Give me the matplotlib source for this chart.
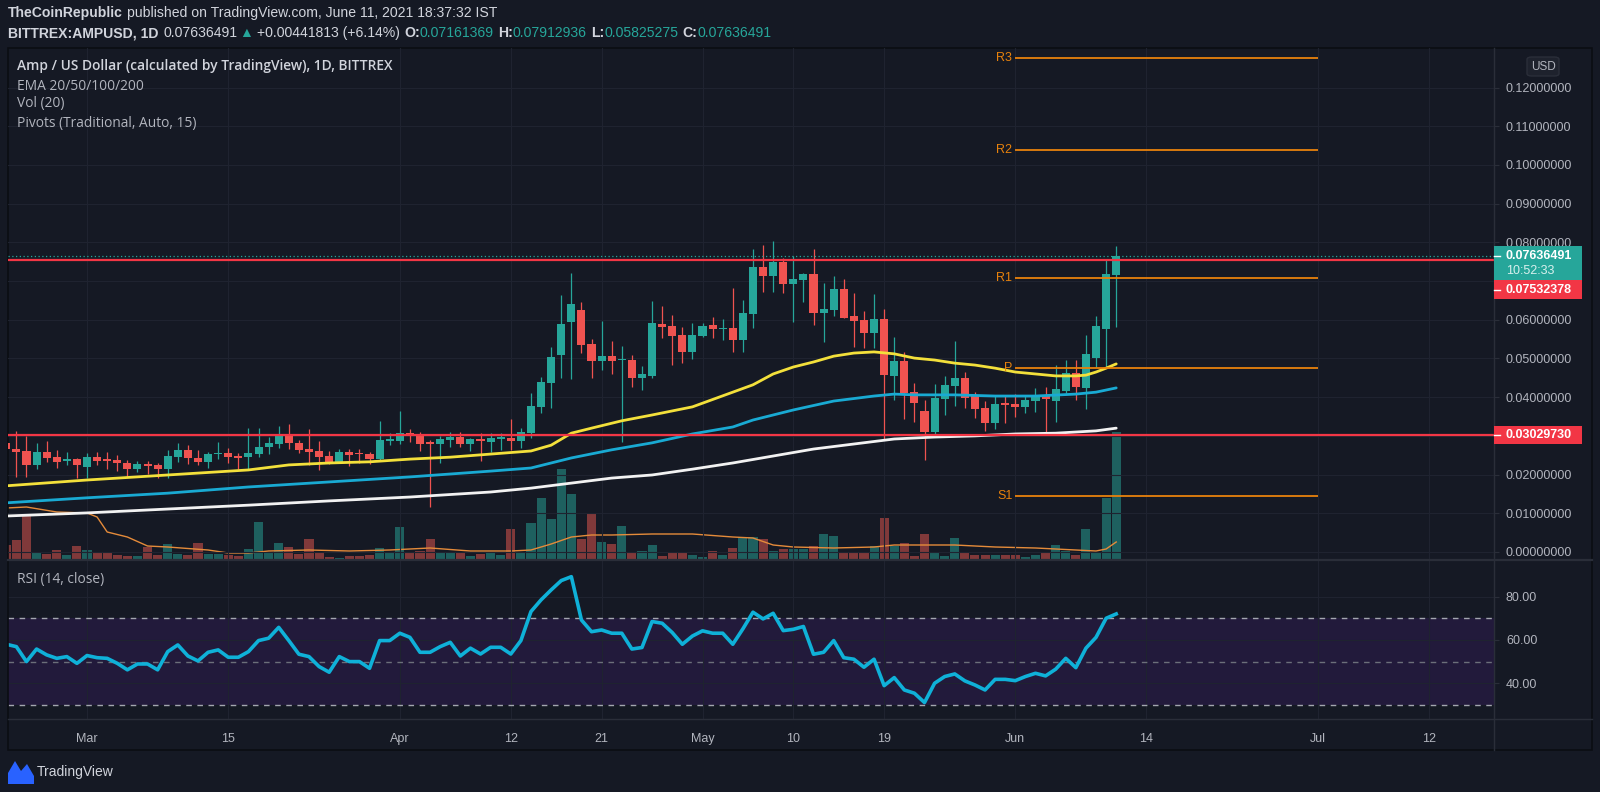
# -*- coding: utf-8 -*-
"""
AMP / USD diario (BITTREX) con EMAs, volumen, pivotes y RSI,
dibujado al estilo del tema oscuro de TradingView.
"""
import pandas as pd
import matplotlib
matplotlib.use("Agg")
import matplotlib.pyplot as plt
import matplotlib.dates as mdates
from matplotlib import font_manager
from matplotlib.lines import Line2D
from matplotlib.patches import Rectangle, FancyBboxPatch, Polygon

# ---------------- datos ----------------
fechas = pd.date_range("2021-02-21", "2021-06-11", freq="D")

aperturas = [0.0282, 0.0266, 0.0261, 0.0225, 0.0258, 0.0245, 0.0235, 0.0240, 0.0220, 0.0245,
             0.0238, 0.0238, 0.0230, 0.0214, 0.0227, 0.0225, 0.0214, 0.0245, 0.0264, 0.0243,
             0.0233, 0.0253, 0.0256, 0.0244, 0.0245, 0.0253, 0.0271, 0.0279, 0.0302, 0.0282,
             0.0266, 0.0261, 0.0248, 0.0233, 0.0258, 0.0255, 0.0253, 0.0240, 0.0287, 0.0287,
             0.0307, 0.0305, 0.0282, 0.0279, 0.0289, 0.0297, 0.0279, 0.0292, 0.0284, 0.0292,
             0.0295, 0.0287, 0.0307, 0.0375, 0.0437, 0.0509, 0.0594, 0.0625, 0.0537, 0.0494,
             0.0506, 0.0495, 0.0496, 0.0450, 0.0455, 0.0589, 0.0584, 0.0561, 0.0517, 0.0558,
             0.0587, 0.0576, 0.0579, 0.0548, 0.0615, 0.0736, 0.0713, 0.0749, 0.0693, 0.0703,
             0.0718, 0.0618, 0.0625, 0.0680, 0.0610, 0.0600, 0.0566, 0.0602, 0.0455, 0.0494,
             0.0413, 0.0364, 0.0310, 0.0395, 0.0429, 0.0450, 0.0406, 0.0372, 0.0333, 0.0382,
             0.0382, 0.0375, 0.0390, 0.0406, 0.0390, 0.0416, 0.0463, 0.0424, 0.0501, 0.0576,
             0.07161369]
maximos = [0.0300, 0.0313, 0.0300, 0.0282, 0.0287, 0.0264, 0.0258, 0.0243, 0.0256, 0.0258,
           0.0258, 0.0251, 0.0238, 0.0235, 0.0235, 0.0230, 0.0264, 0.0282, 0.0276, 0.0264,
           0.0258, 0.0284, 0.0269, 0.0256, 0.0320, 0.0320, 0.0297, 0.0326, 0.0331, 0.0289,
           0.0318, 0.0287, 0.0261, 0.0266, 0.0266, 0.0266, 0.0258, 0.0339, 0.0307, 0.0364,
           0.0318, 0.0310, 0.0289, 0.0300, 0.0310, 0.0310, 0.0295, 0.0307, 0.0307, 0.0307,
           0.0344, 0.0320, 0.0411, 0.0452, 0.0530, 0.0664, 0.0721, 0.0646, 0.0550, 0.0597,
           0.0545, 0.0532, 0.0509, 0.0481, 0.0649, 0.0636, 0.0612, 0.0581, 0.0592, 0.0592,
           0.0607, 0.0602, 0.0682, 0.0651, 0.0783, 0.0793, 0.0804, 0.0760, 0.0765, 0.0721,
           0.0783, 0.0695, 0.0713, 0.0705, 0.0669, 0.0623, 0.0667, 0.0628, 0.0556, 0.0517,
           0.0437, 0.0393, 0.0434, 0.0455, 0.0545, 0.0465, 0.0413, 0.0390, 0.0403, 0.0403,
           0.0408, 0.0403, 0.0424, 0.0426, 0.0483, 0.0496, 0.0496, 0.0561, 0.0610, 0.0755,
           0.07912936]
minimos = [0.0251, 0.0194, 0.0194, 0.0214, 0.0233, 0.0217, 0.0225, 0.0191, 0.0191, 0.0225,
           0.0214, 0.0209, 0.0194, 0.0207, 0.0202, 0.0191, 0.0191, 0.0233, 0.0227, 0.0225,
           0.0217, 0.0240, 0.0230, 0.0214, 0.0212, 0.0245, 0.0253, 0.0269, 0.0266, 0.0256,
           0.0225, 0.0212, 0.0227, 0.0230, 0.0222, 0.0230, 0.0227, 0.0238, 0.0276, 0.0279,
           0.0284, 0.0261, 0.0116, 0.0230, 0.0271, 0.0271, 0.0261, 0.0235, 0.0258, 0.0264,
           0.0264, 0.0269, 0.0295, 0.0359, 0.0372, 0.0450, 0.0447, 0.0514, 0.0450, 0.0470,
           0.0460, 0.0284, 0.0426, 0.0419, 0.0450, 0.0553, 0.0483, 0.0488, 0.0499, 0.0556,
           0.0553, 0.0548, 0.0517, 0.0517, 0.0579, 0.0672, 0.0672, 0.0669, 0.0594, 0.0646,
           0.0587, 0.0543, 0.0610, 0.0605, 0.0530, 0.0527, 0.0527, 0.0289, 0.0393, 0.0344,
           0.0336, 0.0238, 0.0297, 0.0354, 0.0377, 0.0372, 0.0346, 0.0313, 0.0318, 0.0333,
           0.0349, 0.0359, 0.0362, 0.0310, 0.0336, 0.0411, 0.0393, 0.0370, 0.0478, 0.0478,
           0.05825275]
cierres = [0.0266, 0.0258, 0.0225, 0.0258, 0.0243, 0.0233, 0.0240, 0.0225, 0.0245, 0.0235,
           0.0236, 0.0230, 0.0214, 0.0227, 0.0222, 0.0214, 0.0248, 0.0264, 0.0243, 0.0233,
           0.0253, 0.0256, 0.0245, 0.0243, 0.0256, 0.0271, 0.0282, 0.0302, 0.0282, 0.0264,
           0.0258, 0.0245, 0.0233, 0.0258, 0.0251, 0.0252, 0.0240, 0.0289, 0.0289, 0.0307,
           0.0300, 0.0279, 0.0279, 0.0292, 0.0297, 0.0279, 0.0292, 0.0287, 0.0295, 0.0296,
           0.0287, 0.0310, 0.0377, 0.0439, 0.0504, 0.0589, 0.0641, 0.0535, 0.0494, 0.0506,
           0.0494, 0.0499, 0.0450, 0.0460, 0.0592, 0.0581, 0.0558, 0.0517, 0.0561, 0.0584,
           0.0576, 0.0579, 0.0548, 0.0618, 0.0736, 0.0713, 0.0749, 0.0693, 0.0705, 0.0718,
           0.0618, 0.0628, 0.0680, 0.0605, 0.0597, 0.0566, 0.0602, 0.0457, 0.0494, 0.0411,
           0.0385, 0.0310, 0.0398, 0.0432, 0.0450, 0.0398, 0.0370, 0.0333, 0.0382, 0.0380,
           0.0375, 0.0393, 0.0406, 0.0395, 0.0421, 0.0463, 0.0426, 0.0512, 0.0584, 0.0719,
           0.07636491]
# volumen en escala relativa (altura de las barras)
volumenes = [15, 20, 45, 7, 6, 10, 5, 14, 10, 7,
             7, 5, 4, 4, 13, 5, 16, 6, 5, 17,
             6, 6, 5, 4, 11, 38, 8, 17, 13, 6,
             21, 7, 3, 2, 4, 4, 5, 12, 8, 33,
             7, 9, 21, 7, 7, 8, 4, 6, 7, 5,
             31, 8, 37, 62, 41, 91, 66, 21, 46, 18,
             16, 34, 8, 9, 15, 4, 8, 8, 5, 3,
             9, 5, 12, 23, 23, 21, 9, 11, 11, 11,
             14, 26, 24, 8, 7, 7, 14, 42, 14, 17,
             4, 26, 8, 4, 22, 8, 5, 5, 5, 5,
             5, 3, 5, 7, 15, 9, 5, 31, 8, 62,
             128]
vol_ma_dia = [0, 2, 5, 8, 9, 10, 12, 14, 16, 20, 22, 24, 26, 30, 34, 38, 42, 46, 50, 52,
              54, 56, 58, 60, 64, 68, 72, 74, 76, 78, 82, 86, 88, 90, 94, 98, 102, 106,
              108, 109, 110]
vol_ma = [52, 53, 48, 47, 43, 28, 23, 14, 13, 10, 7, 7, 9, 10, 9, 10, 12, 9, 9, 10,
          16, 23, 25, 25, 26, 26, 23, 22, 15, 13, 12, 13, 15, 15, 15, 13, 12, 10,
          9, 11, 18]

ema50_dia = [0, 8, 16, 24, 28, 32, 36, 40, 44, 48, 52, 54, 56, 58, 61, 64, 68, 72, 74,
             76, 78, 80, 82, 84, 86, 88, 90, 92, 94, 96, 98, 100, 102, 104, 106, 107,
             108, 109, 110]
ema50 = [0.0171, 0.0186, 0.0199, 0.0212, 0.0225, 0.0230, 0.0233, 0.0240, 0.0245, 0.0253,
         0.0261, 0.0276, 0.0307, 0.0320, 0.0339, 0.0354, 0.0375, 0.0413, 0.0432, 0.0460,
         0.0478, 0.0491, 0.0506, 0.0514, 0.0517, 0.0512, 0.0501, 0.0496, 0.0488, 0.0483,
         0.0475, 0.0465, 0.0460, 0.0455, 0.0455, 0.0457, 0.0465, 0.0475, 0.0486]
ema100_dia = [0, 8, 16, 24, 32, 40, 48, 52, 56, 60, 64, 68, 72, 74, 78, 82, 86, 88, 90,
              94, 98, 102, 106, 108, 110]
ema100 = [0.0127, 0.0140, 0.0152, 0.0168, 0.0181, 0.0194, 0.0209, 0.0217, 0.0243, 0.0264,
          0.0282, 0.0305, 0.0323, 0.0341, 0.0367, 0.0390, 0.0403, 0.0408, 0.0406, 0.0406,
          0.0403, 0.0403, 0.0408, 0.0413, 0.0424]
ema200_dia = [0, 8, 16, 24, 32, 40, 48, 52, 56, 60, 64, 68, 72, 76, 80, 84, 88, 92, 96,
              100, 104, 106, 108, 110]
ema200 = [0.0093, 0.0101, 0.0111, 0.0121, 0.0132, 0.0142, 0.0155, 0.0165, 0.0178, 0.0191,
          0.0199, 0.0214, 0.0230, 0.0248, 0.0266, 0.0279, 0.0292, 0.0297, 0.0300, 0.0305,
          0.0307, 0.0310, 0.0313, 0.0320]

rsi = [58.0, 56.9, 50.0, 55.8, 53.1, 51.5, 52.3, 49.2, 52.8, 51.8,
       51.5, 49.2, 46.2, 48.9, 48.9, 46.2, 54.6, 57.7, 52.6, 50.3,
       54.3, 55.4, 52.0, 52.0, 54.6, 59.7, 60.8, 65.8, 59.7, 53.4,
       52.3, 47.7, 45.1, 52.3, 50.0, 50.0, 46.9, 59.7, 59.7, 63.1,
       61.2, 54.3, 54.3, 56.9, 58.9, 52.6, 56.2, 53.5, 56.6, 56.6,
       53.5, 59.7, 73.1, 78.5, 83.1, 87.4, 89.2, 69.2, 63.8, 64.6,
       63.1, 63.1, 55.8, 56.5, 68.5, 67.7, 63.4, 58.0, 61.8, 64.2,
       63.1, 63.1, 58.0, 65.1, 72.8, 69.7, 72.3, 64.3, 64.9, 66.2,
       53.4, 54.3, 59.7, 51.8, 51.1, 47.4, 51.1, 38.9, 42.6, 36.9,
       35.4, 31.1, 40.0, 43.1, 44.3, 41.1, 39.2, 36.9, 41.8, 41.8,
       41.2, 43.1, 44.6, 43.4, 46.5, 51.5, 47.2, 56.2, 61.2, 70.0,
       72.0]

# pivotes mensuales (tradicional) de junio
pivote_nombres = ["R3", "R2", "R1", "P", "S1"]
pivote_valores = [0.1276, 0.1039, 0.0709, 0.0476, 0.0145]
pivote_desde, pivote_hasta = "2021-06-01", "2021-07-01"

# lineas horizontales del autor y ultimo precio
lineas_rojas = [0.07532378, 0.03029730]
ultimo_precio = 0.07636491
cuenta_atras = "10:52:33"

precio_ticks = [0.00, 0.01, 0.02, 0.03, 0.04, 0.05, 0.06, 0.07, 0.08, 0.09, 0.10, 0.11, 0.12]
precio_ocultos = [0.03, 0.07]
rsi_ticks = [40, 60, 80]
fecha_ticks = ["2021-03-01", "2021-03-15", "2021-04-01", "2021-04-12", "2021-04-21",
               "2021-05-01", "2021-05-10", "2021-05-19", "2021-06-01", "2021-06-14",
               "2021-07-01", "2021-07-12"]
fecha_etiquetas = ["Mar", "15", "Apr", "12", "21", "May", "10", "19", "Jun", "14", "Jul", "12"]

# ---------------- estilo ----------------
FONDO = "#151924"
REJILLA = "#1f2330"
SEPARADOR = "#2a2e39"
TEXTO = "#b2b5be"
BLANCO = "#d1d4dc"
VERDE = "#26a69a"
ROJO = "#ef5350"
ROJO_LINEA = "#f23645"
NARANJA = "#e8820c"

disponibles = {f.name for f in font_manager.fontManager.ttflist}


def elige(*nombres):
    for n in nombres:
        if n in disponibles:
            return n
    return "DejaVu Sans"


F_EJE = elige("Liberation Sans", "Roboto")
F_CAB = elige("Liberation Sans Narrow", "Liberation Sans")
F_LEY = elige("Open Sans", "Noto Sans")
plt.rcParams["font.family"] = [F_EJE, "DejaVu Sans"]

W, H = 1600, 792
fig = plt.figure(figsize=(W / 100, H / 100), dpi=100, facecolor=FONDO)


def caja(x0, y0, x1, y1):
    return [x0 / W, 1 - y1 / H, (x1 - x0) / W, (y1 - y0) / H]


def fx(x):
    return x / W


def fy(y):
    return 1 - y / H


ax_vol = fig.add_axes(caja(8, 48, 1494, 560), zorder=0)
ax = fig.add_axes(caja(8, 48, 1494, 560), zorder=1, sharex=ax_vol)
ax.patch.set_visible(False)
ax_rsi = fig.add_axes(caja(8, 560, 1494, 719), sharex=ax_vol)
for a in (ax_vol, ax, ax_rsi):
    a.set_facecolor(FONDO)
    for s in a.spines.values():
        s.set_visible(False)

xs = mdates.date2num(fechas)
ax.set_xlim(xs[0] + 0.17, xs[0] + 147.44)
ax.set_ylim(-0.00207, 0.13023)
ax_vol.set_ylim(0, 512)
ax_rsi.set_ylim(23.5, 96.9)

xt = mdates.date2num(pd.to_datetime(fecha_ticks))
ax.set_xticks(xt)
ax.tick_params(axis="x", length=0, labelbottom=False)
ax_vol.tick_params(axis="x", length=0, labelbottom=False)
ax_vol.set_yticks([])

# eje de precios a la derecha
ax.yaxis.tick_right()
ax.set_yticks(precio_ticks)
ax.set_yticklabels(["" if round(t, 2) in precio_ocultos else f"{t:.8f}" for t in precio_ticks])
ax.tick_params(axis="y", length=3.6, width=0.8, color=SEPARADOR, labelcolor=TEXTO,
               labelsize=9, pad=5)
ax.grid(True, color=REJILLA, lw=0.8, zorder=0)

# velas
verde = [c >= o for o, c in zip(aperturas, cierres)]
colores = [VERDE if v else ROJO for v in verde]
ax.vlines(xs, minimos, maximos, colors=colores, lw=0.9, zorder=2)
cuerpo_base = [min(o, c) for o, c in zip(aperturas, cierres)]
cuerpo_alto = [max(abs(c - o), 0.0004) for o, c in zip(aperturas, cierres)]
ax.bar(xs, cuerpo_alto, bottom=cuerpo_base, width=0.8, color=colores, zorder=2)

# volumen
col_vol = ["#1e605f" if v else "#80393a" for v in verde]
ax_vol.bar(xs, volumenes, width=0.9, color=col_vol, zorder=1)
ax_vol.plot(xs[vol_ma_dia], vol_ma, color="#e58b3a", lw=1, zorder=2)

# EMAs
ax.plot(xs[ema200_dia], ema200, color="#f2f2f2", lw=2.0, zorder=3, solid_capstyle="round")
ax.plot(xs[ema100_dia], ema100, color="#19aad3", lw=2.0, zorder=3, solid_capstyle="round")
ax.plot(xs[ema50_dia], ema50, color="#f3e03b", lw=2.0, zorder=3, solid_capstyle="round")

# lineas del autor y ultimo precio
for v in lineas_rojas:
    ax.axhline(v, color=ROJO_LINEA, lw=1.6, zorder=4)
ax.axhline(ultimo_precio, color=VERDE, lw=0.9, ls=(0, (1, 2)), zorder=4)

# pivotes
p0 = mdates.date2num(pd.Timestamp(pivote_desde))
p1 = mdates.date2num(pd.Timestamp(pivote_hasta))
ax.hlines(pivote_valores, p0, p1, color=NARANJA, lw=1.3, zorder=4)
for n, v in zip(pivote_nombres, pivote_valores):
    ax.text(p0 - 0.3, v, n, color=NARANJA, fontsize=9, ha="right", va="center", zorder=4)

# RSI
ax_rsi.axhspan(30, 70, color="#221a3b", zorder=0, lw=0)
ax_rsi.grid(True, color=REJILLA, lw=0.8, zorder=1)
ax_rsi.axhline(70, color="#a3a6af", lw=1, ls=(0, (4, 4)), zorder=2)
ax_rsi.axhline(50, color="#6c6f7a", lw=1, ls=(0, (4, 4)), zorder=2)
ax_rsi.axhline(30, color="#a3a6af", lw=1, ls=(0, (4, 4)), zorder=2)
ax_rsi.plot(xs, rsi, color="#0fb1d8", lw=2.6, zorder=3, solid_joinstyle="round")
ax_rsi.yaxis.tick_right()
ax_rsi.set_yticks(rsi_ticks)
ax_rsi.set_yticklabels([f"{t:.2f}" for t in rsi_ticks])
ax_rsi.tick_params(axis="y", length=3.6, width=0.8, color=SEPARADOR, labelcolor=TEXTO,
                   labelsize=9, pad=5)
ax_rsi.set_xticks(xt)
ax_rsi.set_xticklabels(fecha_etiquetas)
ax_rsi.tick_params(axis="x", length=0, labelcolor=TEXTO, labelsize=9, pad=10)

# separadores y marco
fig.add_artist(Line2D([fx(1494)] * 2, [fy(48), fy(750)], color=SEPARADOR, lw=1))
fig.add_artist(Line2D([fx(8), fx(1592)], [fy(560)] * 2, color=SEPARADOR, lw=1.6))
fig.add_artist(Line2D([fx(8), fx(1592)], [fy(719)] * 2, color=SEPARADOR, lw=1))
fig.add_artist(Rectangle((fx(8), fy(750)), 1584 / W, 702 / H, fill=False,
                         ec="#0b0d13", lw=1.2, transform=fig.transFigure))

# etiquetas de precio en el eje
def etiqueta(y0, y1, color, zorder=10):
    fig.add_artist(Rectangle((fx(1494), fy(y1)), 88 / W, (y1 - y0) / H, fc=color,
                             ec="none", transform=fig.transFigure, zorder=zorder))


def y_precio(v):
    return H - ax.transData.transform((xs[0], v))[1]


yu = y_precio(ultimo_precio)
etiqueta(yu - 10, yu + 24, VERDE)
fig.text(fx(1506), fy(yu), f"{ultimo_precio:.8f}", color="white", fontsize=9,
         fontweight="bold", va="center", zorder=11)
fig.text(fx(1506), fy(yu + 15), cuenta_atras, color="#d8f0ed", fontsize=9, va="center", zorder=11)
etiqueta(yu + 24, yu + 43, ROJO_LINEA)
fig.text(fx(1506), fy(yu + 34), f"{lineas_rojas[0]:.8f}", color="white", fontsize=9,
         fontweight="bold", va="center", zorder=11)
yr = y_precio(lineas_rojas[1])
etiqueta(yr - 9, yr + 9, ROJO_LINEA)
fig.text(fx(1506), fy(yr), f"{lineas_rojas[1]:.8f}", color="white", fontsize=9,
         fontweight="bold", va="center", zorder=11)
for yy in (yu, yu + 34, yr):
    fig.add_artist(Line2D([fx(1494), fx(1500)], [fy(yy)] * 2, color="white", lw=1, zorder=11))

# boton USD
fig.add_artist(FancyBboxPatch((fx(1527), fy(76)), 32 / W, 19 / H,
                              boxstyle="round,pad=0,rounding_size=0.003",
                              fc="#1e222d", ec=SEPARADOR, lw=1, transform=fig.transFigure,
                              zorder=10))
fig.text(fx(1543), fy(66.5), "USD", color=TEXTO, fontsize=8.5, ha="center", va="center",
         zorder=11)

# leyendas
fig.text(fx(17), fy(66), "Amp / US Dollar (calculated by TradingView), 1D, BITTREX",
         color=BLANCO, fontsize=9.9, fontweight="semibold", family=[F_LEY, "DejaVu Sans"],
         va="center")
for yy, t in zip((86, 104, 123), ("EMA 20/50/100/200", "Vol (20)",
                                  "Pivots (Traditional, Auto, 15)")):
    fig.text(fx(17), fy(yy), t, color=TEXTO, fontsize=9.9, family=[F_LEY, "DejaVu Sans"],
             va="center")
fig.text(fx(17), fy(579), "RSI (14, close)", color=TEXTO, fontsize=9.9,
         family=[F_LEY, "DejaVu Sans"], va="center")

# cabecera
render = fig.canvas.get_renderer()


def escribe_linea(piezas, x, y):
    for texto, color, peso, hueco in piezas:
        t = fig.text(fx(x), fy(y), texto, color=color, fontweight=peso, fontsize=10.1,
                     va="center", ha="left", family=[F_CAB, "DejaVu Sans"])
        x = t.get_window_extent(renderer=render).x1 + hueco


escribe_linea([("TheCoinRepublic", BLANCO, "bold", 4),
               ("published on TradingView.com, June 11, 2021 18:37:32 IST", BLANCO, "normal", 0)],
              8, 13)
escribe_linea([("BITTREX:AMPUSD, 1D", BLANCO, "bold", 5),
               (f"{ultimo_precio:.8f}", BLANCO, "normal", 2),
               ("▲", VERDE, "normal", 4),
               ("+0.00441813 (+6.14%)", BLANCO, "normal", 4),
               ("O:", BLANCO, "bold", 0), (f"{aperturas[-1]:.8f}", VERDE, "normal", 4),
               ("H:", BLANCO, "bold", 0), (f"{maximos[-1]:.8f}", VERDE, "normal", 4),
               ("L:", BLANCO, "bold", 0), (f"{minimos[-1]:.8f}", VERDE, "normal", 4),
               ("C:", BLANCO, "bold", 0), (f"{cierres[-1]:.8f}", VERDE, "normal", 0)],
              8, 33)

# logo TradingView
fig.add_artist(Polygon([(fx(8), fy(784)), (fx(8), fy(773)), (fx(15), fy(761)),
                        (fx(21), fy(771)), (fx(27), fy(764)), (fx(34), fy(776)),
                        (fx(34), fy(784))], closed=True, fc="#2962ff", ec="none",
                       transform=fig.transFigure))
fig.text(fx(37), fy(772), "TradingView", color=BLANCO, fontsize=10,
         family=[F_CAB, "DejaVu Sans"], va="center")

fig.savefig("out.png", dpi=100, facecolor=FONDO)
